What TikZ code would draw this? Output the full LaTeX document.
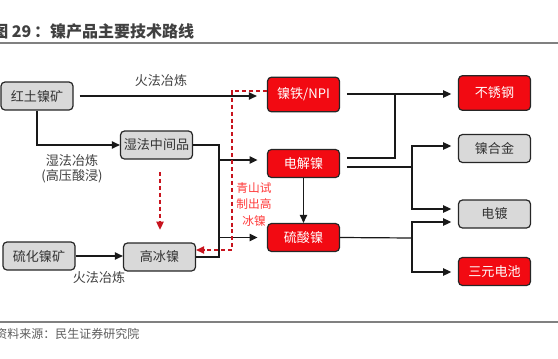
\documentclass[tikz,border=0pt]{standalone}
\usepackage{fontspec}
\setmainfont{Noto Sans CJK SC}
\usetikzlibrary{arrows.meta}
\definecolor{boxgray}{HTML}{D9D9D9}
\definecolor{boxred}{HTML}{F20A12}
\definecolor{dashred}{HTML}{C8141E}
\definecolor{labred}{HTML}{FF3A3A}
\definecolor{txt}{HTML}{404040}
\definecolor{rule}{HTML}{808080}
\tikzset{
  basebox/.style={rounded corners=3pt, line width=0.9pt, draw=black!85, minimum width=54pt, minimum height=21pt, inner sep=1pt, font=\fontsize{9.8}{11}\selectfont},
  graybox/.style={basebox, fill=boxgray, text=black!80},
  redbox/.style={basebox, fill=boxred, text=white},
  tallbox/.style={minimum height=26pt},
  conn/.style={line width=0.9pt, black!90},
  arr/.style={conn, -{Triangle[length=6pt,width=5.5pt]}},
  reddash/.style={line width=0.9pt, dashred, dash pattern=on 3pt off 2.2pt, -{Triangle[length=6pt,width=5.5pt]}},
  lab/.style={text=txt, font=\fontsize{9.8}{11}\selectfont, inner sep=0pt},
}
\begin{document}
\begin{tikzpicture}[x=0.75pt, y=-0.75pt]
\useasboundingbox (0,0) rectangle (558,358);
% title and rules
\node[anchor=west, inner sep=0pt, text=txt, font=\fontsize{12}{14}\selectfont\bfseries] (title) at (-8,31) {图 29\,：镍产品主要技术路线};
\draw[rule, line width=1.3pt] (0,43) -- (558,43);
\draw[rule, line width=1pt] (0,322) -- (558,322);
\node[anchor=west, inner sep=0pt, text=txt!85, font=\fontsize{9}{11}\selectfont] (source) at (-5,334) {资料来源：民生证券研究院};
% nodes
\node[graybox] (hongtu) at (37,96) {红土镍矿};
\node[graybox] (shifa) at (156.5,145) {湿法中间品};
\node[graybox] (liuhua) at (39,256) {硫化镍矿};
\node[graybox] (gaobing) at (159.5,257) {高冰镍};
\node[redbox, tallbox] (niefe) at (303.5,94.5) {镍铁/NPI};
\node[redbox] (dianjie) at (303.5,163.5) {电解镍};
\node[redbox] (liusuan) at (303.5,237.5) {硫酸镍};
\node[redbox, tallbox] (buxiu) at (494.5,93) {不锈钢};
\node[graybox] (niehe) at (494.5,148.5) {镍合金};
\node[graybox] (diandu) at (494.5,214) {电镀};
\node[redbox] (sanyuan) at (494.5,271.5) {三元电池};
% labels
\node[lab] (l1) at (161,81) {火法冶炼};
\node[lab, align=center] (l2) at (72,169) {湿法冶炼\\(高压酸浸)};
\node[lab] (l3) at (99,278) {火法冶炼};
\node[inner sep=0pt, text=labred, align=center, font=\fontsize{8.8}{12.4}\selectfont] (l4) at (254,204.5) {青山试\\制出高\\冰镍};
% coordinates
\coordinate (bus) at (219,145);
\coordinate (b1) at (219,160);
\coordinate (rd1) at (160,172);
\coordinate (r1) at (232,91);
\coordinate (r2) at (232,250);
\coordinate (j1) at (395,94);
\coordinate (j2) at (395,158);
\coordinate (k0) at (412,167);
\coordinate (k1) at (412,146);
\coordinate (k2) at (412,209);
\coordinate (m0) at (412,238);
\coordinate (m1) at (412,222);
\coordinate (m2) at (412,272);
% connectors left
\draw[arr, shorten <=4.5pt, shorten >=7.5pt] (hongtu.east) -- (hongtu.east -| niefe.west);
\draw[arr] (hongtu.south) |- (shifa.west);
\draw[conn] (shifa.east) -- (bus) -- (bus |- gaobing.east) -- (gaobing.east);
\draw[arr, shorten >=7pt] (b1) -- (b1 -| dianjie.west);
\draw[arr, shorten >=7pt] (bus |- liusuan.west) -- (liusuan.west);
\draw[arr] (liuhua.east) -- (liuhua.east -| gaobing.west);
% red dashed
\draw[reddash, shorten >=9.5pt] (rd1) -- (rd1 |- gaobing.north);
\draw[reddash] (niefe.west |- r1) -- (r1) -- (r2) -- (r2 -| gaobing.east);
% right side
\draw[arr] (dianjie.south) -- (liusuan.north);
\draw[arr, shorten <=5pt, shorten >=5pt] (niefe.east |- j1) -- (j1 -| buxiu.west);
\draw[conn, shorten <=5pt] (dianjie.east |- j2) -- (j2) -- (j1);
\draw[conn, shorten <=5pt] (dianjie.east |- k0) -- (k0);
\draw[arr, shorten >=5pt] (k0) -- (k1) -- (k1 -| niehe.west);
\draw[arr, shorten >=5pt] (k0) -- (k2) -- (k2 -| diandu.west);
\draw[conn] (liusuan.east) -- (m0);
\draw[arr, shorten >=5pt] (m0) -- (m1) -- (m1 -| diandu.west);
\draw[arr, shorten >=5pt] (m0) -- (m2) -- (m2 -| sanyuan.west);
\end{tikzpicture}
\end{document}
